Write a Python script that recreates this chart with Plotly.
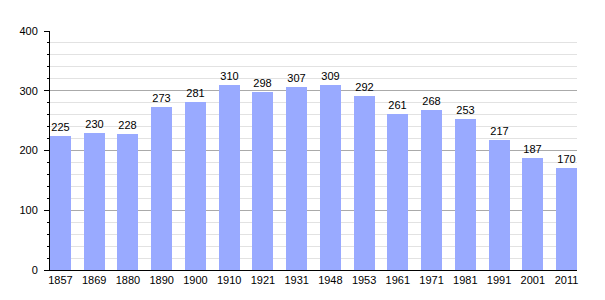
import plotly.graph_objects as go

years = ["1857", "1869", "1880", "1890", "1900", "1910", "1921", "1931",
         "1948", "1953", "1961", "1971", "1981", "1991", "2001", "2011"]
population = [225, 230, 228, 273, 281, 310, 298, 307, 309, 292, 261, 268, 253, 217, 187, 170]
y_ticks = [0, 100, 200, 300, 400]

fig = go.Figure()
fig.add_trace(go.Bar(
    x=list(range(len(years))), y=population, width=0.62,
    marker=dict(color="#99aaff", line=dict(width=0)),
    text=[str(v) for v in population], textposition="outside",
    textfont=dict(family="Liberation Sans, Arial, sans-serif", size=11, color="#000"),
    cliponaxis=False,
))
fig.update_layout(
    width=605, height=300,
    margin=dict(l=50, r=28, t=31, b=30),
    plot_bgcolor="white", paper_bgcolor="white",
    showlegend=False,
    font=dict(family="Liberation Sans, Arial, sans-serif", size=11, color="#000"),
    bargap=0,
    xaxis=dict(
        tickmode="array", tickvals=list(range(len(years))), ticktext=years,
        range=[-0.31, 15.31], showgrid=False, showline=True, linecolor="#000",
        linewidth=1, ticks="", zeroline=False, fixedrange=True,
    ),
    yaxis=dict(
        range=[0, 400], tickmode="array", tickvals=y_ticks,
        showgrid=True, gridcolor="#aaaaaa", gridwidth=1,
        showline=True, linecolor="#000", linewidth=1,
        ticks="outside", ticklen=5, tickcolor="#000", ticklabelstandoff=4,
        minor=dict(dtick=20, tick0=0, showgrid=True, gridcolor="#e2e2e2",
                   ticks="outside", ticklen=2, tickcolor="#000"),
        zeroline=False,
    ),
)
fig.write_html("out.html")
